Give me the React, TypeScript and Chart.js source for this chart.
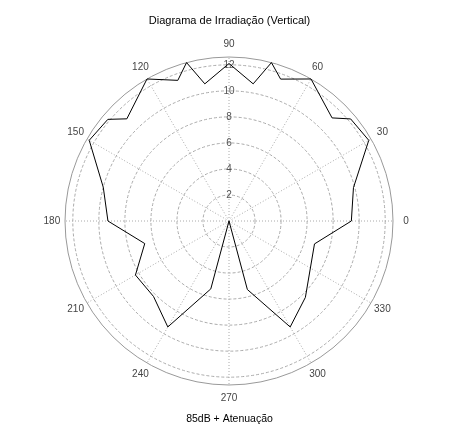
import { useEffect, useRef } from 'react';
import { Chart, registerables } from 'chart.js';

Chart.register(...registerables);

// polar diagram, angles in degrees (0 = right, counter-clockwise), radius in dB
const ANGLES = [0, 15, 30, 40, 45, 60, 70, 75, 80, 90, 100, 105, 110, 120, 135, 140, 150, 165,
  180, 195, 210, 225, 240, 255, 270, 285, 300, 315, 345];
const RADII = [9.4, 9.9, 12.4, 12.2, 11.2, 12.6, 11.6, 12.6, 10.7, 12.1, 10.7, 12.6, 11.5, 12.6, 11.1, 12.15, 12.4, 10.0,
  9.3, 6.7, 8.3, 8.2, 9.4, 5.4, 0, 5.45, 9.4, 8.3, 6.8];
const R_MAX = 12.6;
const R_STEP = 2;
const STEP_DEG = 5;
const SPOKE_DEG = 30;

const TITLE = 'Diagrama de Irradiação (Vertical)';
const X_LABEL = '85dB + Atenuação';

const FONT = '"Liberation Sans", Arial, sans-serif';
const LABEL_R = 1.08; // angle labels sit just outside the rim, centred like matlab's polar()

// radar goes clockwise from the top, so slot k sits at 90 - k*5 degrees
const SLOTS = Array.from({ length: 360 / STEP_DEG }, (_, k) => ((90 - k * STEP_DEG) % 360 + 360) % 360);
const LABELS = SLOTS.map(a => (a % SPOKE_DEG === 0 ? String(a) : ''));
const VALUES = SLOTS.map(a => {
  const i = ANGLES.indexOf(a);
  return i >= 0 ? RADII[i] : null;
});

const angleLabels = {
  id: 'angleLabels',
  afterDraw(chart: any) {
    const s = chart.scales.r;
    const ctx = chart.ctx;
    ctx.save();
    ctx.font = `10px ${FONT}`;
    ctx.fillStyle = '#444';
    ctx.textAlign = 'center';
    ctx.textBaseline = 'middle';
    LABELS.forEach((l, i) => {
      if (!l) return;
      const p = s.getPointPosition(i, s.drawingArea * LABEL_R);
      ctx.fillText(l, p.x, p.y);
    });
    ctx.restore();
  },
};

export default function App() {
  const ref = useRef<HTMLCanvasElement>(null);

  useEffect(() => {
    if (!ref.current) return;
    const chart = new Chart(ref.current, {
      type: 'radar',
      data: {
        labels: LABELS,
        datasets: [{
          data: VALUES,
          borderColor: '#000',
          borderWidth: 1,
          pointRadius: 0,
          fill: false,
          spanGaps: true,
          tension: 0,
        }],
      },
      options: {
        responsive: true, maintainAspectRatio: false, animation: false,
        layout: { padding: 0 },
        plugins: {
          legend: { display: false },
          tooltip: { enabled: false },
          title: {
            display: true, text: TITLE, color: '#000',
            font: { family: FONT, size: 11, weight: 'normal' },
            padding: { top: 14.5, bottom: 24.3 },
          },
          subtitle: {
            display: true, text: X_LABEL, position: 'bottom', color: '#000',
            font: { family: FONT, size: 10.5, weight: 'normal' },
            padding: { top: 22.4, bottom: 10 },
          },
        },
        scales: {
          r: {
            min: 0, max: R_MAX, startAngle: 0,
            ticks: {
              stepSize: R_STEP, color: '#555', showLabelBackdrop: false, backdropPadding: 0,
              font: { family: FONT, size: 10 },
              callback: (v: any) => (Number(v) % R_STEP === 0 ? String(v) : ''),
            },
            grid: {
              circular: true, lineWidth: 1,
              color: (c: any) => (c.tick && c.tick.value === R_MAX ? '#999' : '#aaa'),
            },
            border: {
              dash: (c: any) => (c.tick && c.tick.value === R_MAX ? [] : [3, 2]),
            },
            angleLines: {
              lineWidth: 1, borderDash: [1, 2],
              color: (c: any) => (LABELS[c.index] !== '' ? '#aaa' : 'rgba(0,0,0,0)'),
            },
            pointLabels: { display: false },
          },
        },
      },
      plugins: [angleLabels],
    });
    return () => chart.destroy();
  }, []);

  return (
    <div style={{ position: 'absolute', left: 0, top: 0, width: 459, height: 435, background: '#fff' }}>
      <canvas ref={ref} />
    </div>
  );
}
